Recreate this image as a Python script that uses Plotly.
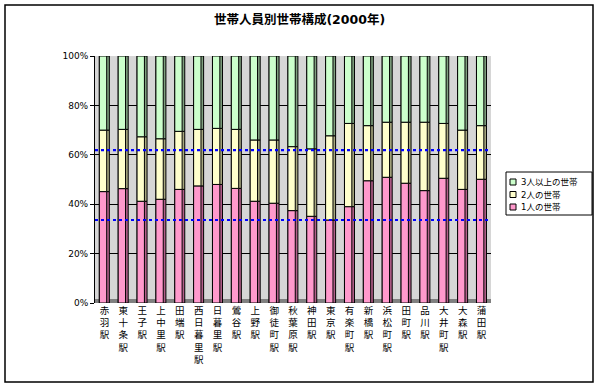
import plotly.graph_objects as go

stations = ["赤羽駅", "東十条駅", "王子駅", "上中里駅", "田端駅", "西日暮里駅", "日暮里駅",
            "鶯谷駅", "上野駅", "御徒町駅", "秋葉原駅", "神田駅", "東京駅", "有楽町駅",
            "新橋駅", "浜松町駅", "田町駅", "品川駅", "大井町駅", "大森駅", "蒲田駅"]
one_person = [45.1, 46.3, 41.2, 42.0, 46.0, 47.4, 48.0, 46.4, 41.2, 40.4, 37.4, 35.1,
              33.6, 39.0, 49.5, 50.9, 48.5, 45.5, 50.5, 46.0, 50.1]
two_person = [24.9, 24.0, 26.1, 24.5, 23.5, 22.9, 22.7, 23.9, 24.8, 25.6, 25.9, 27.3,
              34.1, 33.7, 22.3, 22.3, 24.7, 27.7, 22.2, 24.0, 21.7]
three_plus = [30.0, 29.7, 32.7, 33.5, 30.5, 29.7, 29.3, 29.7, 34.0, 34.0, 36.7, 37.6,
              32.3, 27.3, 28.2, 26.8, 26.8, 26.8, 27.3, 30.0, 28.2]
ref_one = 33.6
ref_two_cum = 61.9
y_ticks = [0, 20, 40, 60, 80, 100]

names = ["1人の世帯", "2人の世帯", "3人以上の世帯"]
series = [one_person, two_person, three_plus]
front_colors = ["#FF99CC", "#FFFFCC", "#CCFFCC"]
side_colors = ["#B35F8A", "#A8A880", "#7FA07F"]

font = "DejaVu Sans, Noto Sans CJK JP"
W, H = 599, 387
L, R, T, B = 95, 491, 56, 303


def px_x(p):
    return (p - L) / (R - L)


def px_y(p):
    return (B - p) / (B - T)


fig = go.Figure()

bases = [[0] * len(stations)]
for s in series[:-1]:
    bases.append([b + v for b, v in zip(bases[-1], s)])

xs = list(range(len(stations)))
for s, b, c in zip(series, bases, side_colors):
    fig.add_trace(go.Bar(x=xs, y=s, base=b, width=0.53, offset=-0.27,
                         marker=dict(color=c, line=dict(color="black", width=1)),
                         showlegend=False, hoverinfo="skip"))
for s, b, c, n in zip(series, bases, front_colors, names):
    fig.add_trace(go.Bar(x=xs, y=s, base=b, width=0.39, offset=-0.27, name=n,
                         marker=dict(color=c, line=dict(color="black", width=1)),
                         showlegend=False))

fig.update_layout(
    width=W, height=H,
    margin=dict(l=L, r=W - R, t=T, b=H - B),
    barmode="overlay",
    paper_bgcolor="white",
    plot_bgcolor="#D6D6D6",
    font=dict(family=font, size=9, color="black"),
    title=dict(text="<b>世帯人員別世帯構成(2000年)</b>", x=0.5, xanchor="center",
               y=1 - 20 / H, yanchor="middle", font=dict(size=12.5, family=font)),
    showlegend=False,
)
fig.update_xaxes(range=[-0.5, len(stations) - 0.5], tickvals=xs,
                 ticktext=["<br>".join(list(n)) for n in stations],
                 tickfont=dict(size=9.5, family=font), showgrid=False, ticks="",
                 showline=False, zeroline=False)
fig.update_yaxes(range=[0, 100], tickvals=y_ticks, ticktext=[f"{v}%" for v in y_ticks],
                 showgrid=True, gridcolor="black", gridwidth=1, zeroline=False,
                 showline=True, linecolor="black", ticks="outside", ticklen=4,
                 tickcolor="black", tickfont=dict(size=9, family=font))

# floor
fig.add_shape(type="rect", xref="paper", yref="y", x0=0, x1=1, y0=0, y1=1.6,
              fillcolor="#808080", line=dict(width=0), layer="below")
# reference dotted lines
for yv in [ref_one, ref_two_cum]:
    fig.add_shape(type="line", xref="paper", yref="y", x0=0, x1=1, y0=yv, y1=yv,
                  line=dict(color="#0000FF", width=2.2, dash="dot"))
# chart border
fig.add_shape(type="rect", xref="paper", yref="paper",
              x0=px_x(5), x1=px_x(593), y0=px_y(382), y1=px_y(5),
              line=dict(color="black", width=1.5))

# custom legend
fig.add_shape(type="rect", xref="paper", yref="paper",
              x0=px_x(506), x1=px_x(592), y0=px_y(215), y1=px_y(172),
              line=dict(color="black", width=1), fillcolor="white")
leg_y = [207, 194.5, 182]
for yc, c, n in zip(leg_y, front_colors, names):
    fig.add_shape(type="rect", xref="paper", yref="paper",
                  x0=px_x(510), x1=px_x(516), y0=px_y(yc + 3), y1=px_y(yc - 3),
                  line=dict(color="black", width=1), fillcolor=c)
    fig.add_annotation(xref="paper", yref="paper", x=px_x(519), y=px_y(yc),
                       xanchor="left", yanchor="middle", text=n, showarrow=False,
                       font=dict(size=8.5, family=font))

fig.write_html("out.html")
